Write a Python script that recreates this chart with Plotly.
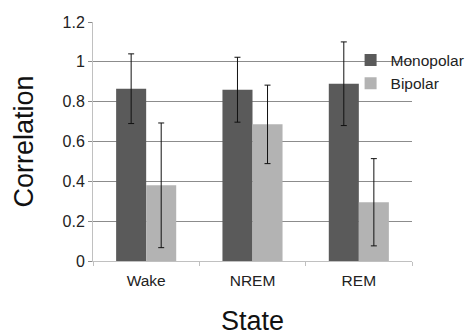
import plotly.graph_objects as go

states = ["Wake", "NREM", "REM"]
monopolar = [0.865, 0.86, 0.89]
monopolar_err = [0.175, 0.163, 0.21]
bipolar = [0.38, 0.686, 0.295]
bipolar_err = [0.313, 0.197, 0.219]
y_ticks = [0, 0.2, 0.4, 0.6, 0.8, 1, 1.2]
y_tick_labels = ["0", "0.2", "0.4", "0.6", "0.8", "1", "1.2"]

font = "Liberation Sans, Arial, sans-serif"

fig = go.Figure()
fig.add_trace(go.Bar(
    x=states, y=monopolar, name="Monopolar",
    marker=dict(color="#5a5a5a", line=dict(width=0)),
    error_y=dict(type="data", array=monopolar_err, color="#111111", thickness=1, width=3),
))
fig.add_trace(go.Bar(
    x=states, y=bipolar, name="Bipolar",
    marker=dict(color="#b3b3b3", line=dict(width=0)),
    error_y=dict(type="data", array=bipolar_err, color="#111111", thickness=1, width=3),
))

fig.update_layout(
    width=471, height=336,
    margin=dict(l=93, r=59, t=22, b=75, autoexpand=False),
    paper_bgcolor="white", plot_bgcolor="white",
    barmode="group", bargap=0.435, bargroupgap=0,
    font=dict(family=font, color="#222222", size=15),
    legend=dict(x=0.8075, y=0.91, xanchor="left", yanchor="top",
                bgcolor="rgba(0,0,0,0)", font=dict(size=15.5, color="#222222"),
                itemwidth=30, tracegroupgap=0),
    xaxis=dict(
        automargin=False,
        showgrid=False, showline=True, linecolor="#c0c0c0", linewidth=1,
        ticks="outside", tickson="boundaries", ticklen=4, tickcolor="#c0c0c0",
        ticklabelstandoff=5,
        tickfont=dict(size=15.5, color="#222222"),
        title=dict(text="State", font=dict(size=27, color="#111111"), standoff=33),
    ),
    yaxis=dict(
        automargin=False,
        range=[0, 1.2], tickvals=y_ticks, ticktext=y_tick_labels,
        showgrid=True, gridcolor="#8c8c8c", gridwidth=1,
        showline=True, linecolor="#c0c0c0", linewidth=1,
        ticks="outside", ticklen=4, tickcolor="#8c8c8c",
        tickfont=dict(size=16, color="#222222"),
        zeroline=False,
        title=dict(text="Correlation", font=dict(size=27, color="#111111"), standoff=21),
    ),
)

fig.write_html("out.html", config={"displayModeBar": False},
               post_script="document.body.style.margin='0';")
